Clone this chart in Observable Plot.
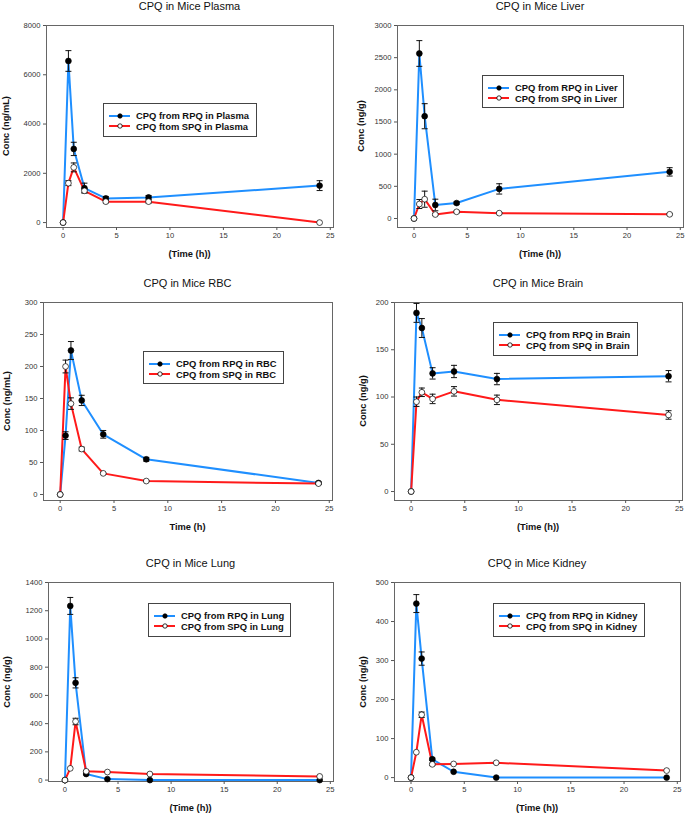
<!DOCTYPE html>
<html><head><meta charset="utf-8">
<script src="https://cdn.jsdelivr.net/npm/d3@7"></script>
<script src="https://cdn.jsdelivr.net/npm/@observablehq/plot@0.6"></script>
<style>
html,body{margin:0;padding:0;background:#fff;}
#page{position:relative;width:685px;height:816px;overflow:hidden;font-family:"Liberation Sans",Arial,sans-serif;color:#111;}
.panel{position:absolute;}
.title{position:absolute;font-size:11px;line-height:11px;white-space:nowrap;transform:translate(-50%,-50%);color:#111;}
.xlab{position:absolute;font-size:9.3px;line-height:10px;font-weight:bold;white-space:nowrap;transform:translate(-50%,-50%);color:#111;}
.ylab{position:absolute;font-size:9.3px;line-height:10px;font-weight:bold;white-space:nowrap;transform:translate(-50%,-50%) rotate(-90deg);color:#111;}
.legend{position:absolute;border:1px solid #444;background:#fff;box-sizing:border-box;}
.legend .row{position:absolute;left:0;height:10px;display:flex;align-items:center;white-space:nowrap;font-size:9.4px;font-weight:bold;color:#111;}
.legend svg{display:block;margin-left:5px;margin-right:6px;}
</style>
</head><body><div id="page"></div>
<script>
// ---------- data ----------
const times = [0, 0.5, 1, 2, 4, 8, 24];
const xTicks = [0, 5, 10, 15, 20, 25];

const plasmaRPQ = [0, 6560, 2990, 1400, 980, 1020, 1500];
const plasmaRPQErr = [0, 420, 270, 200, 80, 80, 200];
const plasmaSPQ = [0, 1600, 2240, 1290, 850, 850, 0];
const plasmaSPQErr = [0, 100, 180, 80, 50, 60, 0];
const plasmaTicks = [0, 2000, 4000, 6000, 8000];

const liverRPQ = [0, 2565, 1590, 210, 240, 460, 725];
const liverRPQErr = [0, 200, 195, 90, 20, 80, 65];
const liverSPQ = [0, 225, 300, 62, 104, 83, 65];
const liverSPQErr = [0, 70, 125, 15, 15, 10, 10];
const liverTicks = [0, 500, 1000, 1500, 2000, 2500, 3000];

const rbcRPQ = [0, 92, 225, 147, 94, 55, 18];
const rbcRPQErr = [0, 6, 14, 8, 6, 3, 2];
const rbcSPQ = [0, 200, 142, 71, 33, 21, 17];
const rbcSPQErr = [0, 10, 9, 3, 1, 1, 1];
const rbcTicks = [0, 50, 100, 150, 200, 250, 300];

const brainRPQ = [0, 189, 173, 125, 127, 119, 122];
const brainRPQErr = [0, 10, 10, 6, 6.5, 6, 6];
const brainSPQ = [0, 95, 105, 98, 106, 97, 81];
const brainSPQErr = [0, 5, 4.5, 5, 5, 5, 4.5];
const brainTicks = [0, 50, 100, 150, 200];

const lungRPQ = [0, 1234, 689, 43, 7, 0, 0];
const lungRPQErr = [0, 60, 36, 6, 0, 0, 0];
const lungSPQ = [0, 83, 415, 62, 57, 43, 26];
const lungSPQErr = [0, 0, 23, 5, 0, 0, 0];
const lungTicks = [0, 200, 400, 600, 800, 1000, 1200, 1400];

const kidneyRPQ = [0, 446, 305, 47, 15, 0, 0];
const kidneyRPQErr = [0, 23, 17, 3, 0, 0, 0];
const kidneySPQ = [0, 65, 161, 34, 35, 38, 18];
const kidneySPQErr = [0, 0, 7, 3, 0, 0, 0];
const kidneyTicks = [0, 100, 200, 300, 400, 500];

const panels = [
  {title: "CPQ in Mice Plasma", ylabel: "Conc (ng/mL)", xlabel: "(Time (h))",
   leg1: "CPQ from RPQ in Plasma", leg2: "CPQ ftom SPQ in Plasma",
   rpq: plasmaRPQ, rpqErr: plasmaRPQErr, spq: plasmaSPQ, spqErr: plasmaSPQErr, ticks: plasmaTicks,
   yDomain: [-200, 8000],
   box: {x: 0, y: 0, w: 340, h: 265}, frame: {L: 46, R: 333, T: 25, B: 227}, ylabX: 6,
   legend: {x: 103, y: 103, w: 154, h: 34}},
  {title: "CPQ in Mice Liver", ylabel: "Conc (ng/g)", xlabel: "(Time (h))",
   leg1: "CPQ from RPQ in Liver", leg2: "CPQ from SPQ in Liver",
   rpq: liverRPQ, rpqErr: liverRPQErr, spq: liverSPQ, spqErr: liverSPQErr, ticks: liverTicks,
   yDomain: [-140, 3000],
   box: {x: 340, y: 0, w: 345, h: 265}, frame: {L: 397, R: 683, T: 25, B: 227}, ylabX: 361,
   legend: {x: 482, y: 75, w: 142, h: 33}},
  {title: "CPQ in Mice RBC", ylabel: "Conc (ng/mL)", xlabel: "Time (h)",
   leg1: "CPQ from RPQ in RBC", leg2: "CPQ from SPQ in RBC",
   rpq: rbcRPQ, rpqErr: rbcRPQErr, spq: rbcSPQ, spqErr: rbcSPQErr, ticks: rbcTicks,
   yDomain: [-9.4, 300],
   box: {x: 0, y: 265, w: 340, h: 275}, frame: {L: 43, R: 332, T: 302, B: 500}, ylabX: 7,
   legend: {x: 143, y: 351, w: 141, h: 33}},
  {title: "CPQ in Mice Brain", ylabel: "Conc (ng/g)", xlabel: "(Time (h))",
   leg1: "CPQ from RPQ in Brain", leg2: "CPQ from SPQ in Brain",
   rpq: brainRPQ, rpqErr: brainRPQErr, spq: brainSPQ, spqErr: brainSPQErr, ticks: brainTicks,
   yDomain: [-9.5, 200],
   box: {x: 340, y: 265, w: 345, h: 275}, frame: {L: 394, R: 682, T: 302, B: 500}, ylabX: 363,
   legend: {x: 493, y: 322, w: 145, h: 34}},
  {title: "CPQ in Mice Lung", ylabel: "Conc (ng/g)", xlabel: "(Time (h))",
   leg1: "CPQ from RPQ in Lung", leg2: "CPQ from SPQ in Lung",
   rpq: lungRPQ, rpqErr: lungRPQErr, spq: lungSPQ, spqErr: lungSPQErr, ticks: lungTicks,
   yDomain: [-10, 1400],
   box: {x: 0, y: 540, w: 340, h: 276}, frame: {L: 48, R: 333, T: 582, B: 781}, ylabX: 7,
   legend: {x: 148, y: 603, w: 143, h: 34}},
  {title: "CPQ in Mice Kidney", ylabel: "Conc (ng/g)", xlabel: "(Time (h))",
   leg1: "CPQ from RPQ in Kidney", leg2: "CPQ from SPQ in Kidney",
   rpq: kidneyRPQ, rpqErr: kidneyRPQErr, spq: kidneySPQ, spqErr: kidneySPQErr, ticks: kidneyTicks,
   yDomain: [-10, 500],
   box: {x: 340, y: 540, w: 345, h: 276}, frame: {L: 394, R: 680, T: 582, B: 781}, ylabX: 363,
   legend: {x: 493, y: 603, w: 152, h: 34}}
];

const BLUE = "#1f8fff";
const RED = "#ff1a1a";
const capSymbol = {draw(ctx) { ctx.moveTo(-3, 0); ctx.lineTo(3, 0); }};

const page = document.getElementById("page");

function errMarks(rows, key, errKey) {
  const data = rows.filter(d => d[errKey] > 0);
  return [
    Plot.ruleX(data, {x: "t", y1: d => d[key] - d[errKey], y2: d => d[key] + d[errKey], stroke: "#111", strokeWidth: 1}),
    Plot.dot(data, {x: "t", y: d => d[key] + d[errKey], symbol: capSymbol, fill: "none", stroke: "#111", strokeWidth: 1}),
    Plot.dot(data, {x: "t", y: d => d[key] - d[errKey], symbol: capSymbol, fill: "none", stroke: "#111", strokeWidth: 1})
  ];
}

for (const p of panels) {
  const rows = times.map((t, i) => ({t, rpq: p.rpq[i], rpqErr: p.rpqErr[i], spq: p.spq[i], spqErr: p.spqErr[i]}));
  const {box, frame} = p;
  const chart = Plot.plot({
    width: box.w, height: box.h,
    marginLeft: frame.L - box.x, marginRight: box.x + box.w - frame.R,
    marginTop: frame.T - box.y, marginBottom: box.y + box.h - frame.B,
    style: {background: "transparent", overflow: "visible", fontFamily: "'Liberation Sans', Arial, sans-serif", fontSize: "7.6px", color: "#333"},
    x: {domain: [-1.55, 25.3]},
    y: {domain: p.yDomain},
    marks: [
      Plot.frame({stroke: "#666", strokeWidth: 1}),
      Plot.axisX({ticks: xTicks, tickSize: 3, tickPadding: 2, tickFormat: d => String(d), label: null, stroke: "#555"}),
      Plot.axisY({ticks: p.ticks, tickSize: 3, tickPadding: 3, tickFormat: d => String(d), label: null, stroke: "#555"}),
      Plot.line(rows, {x: "t", y: "rpq", stroke: BLUE, strokeWidth: 2}),
      Plot.line(rows, {x: "t", y: "spq", stroke: RED, strokeWidth: 2}),
      ...errMarks(rows, "rpq", "rpqErr"),
      ...errMarks(rows, "spq", "spqErr"),
      Plot.dot(rows, {x: "t", y: "rpq", r: 2.9, fill: "#000", stroke: "#000", strokeWidth: 0.7}),
      Plot.dot(rows, {x: "t", y: "spq", r: 2.9, fill: "#fff", stroke: "#000", strokeWidth: 0.7})
    ]
  });
  const holder = document.createElement("div");
  holder.className = "panel";
  holder.style.left = box.x + "px";
  holder.style.top = box.y + "px";
  holder.appendChild(chart);
  page.appendChild(holder);

  const cx = (frame.L + frame.R) / 2;
  const t = document.createElement("div");
  t.className = "title"; t.textContent = p.title;
  t.style.left = cx + "px"; t.style.top = (frame.T - 19) + "px";
  page.appendChild(t);

  const xl = document.createElement("div");
  xl.className = "xlab"; xl.textContent = p.xlabel;
  xl.style.left = cx + "px"; xl.style.top = (frame.B + 27) + "px";
  page.appendChild(xl);

  const yl = document.createElement("div");
  yl.className = "ylab"; yl.textContent = p.ylabel;
  yl.style.left = p.ylabX + "px"; yl.style.top = ((frame.T + frame.B) / 2) + "px";
  page.appendChild(yl);

  const lg = document.createElement("div");
  lg.className = "legend";
  Object.assign(lg.style, {left: p.legend.x + "px", top: p.legend.y + "px", width: p.legend.w + "px", height: p.legend.h + "px"});
  const entries = [[p.leg1, BLUE, "#000"], [p.leg2, RED, "#fff"]];
  entries.forEach(([label, color, fill], i) => {
    const row = document.createElement("div");
    row.className = "row";
    row.style.top = (6.5 + i * 10.5) + "px";
    row.innerHTML = `<svg width="21" height="10"><line x1="0" x2="21" y1="5" y2="5" stroke="${color}" stroke-width="2"/><circle cx="11" cy="5" r="2.2" fill="${fill}" stroke="#000" stroke-width="0.8"/></svg><span>${label}</span>`;
    lg.appendChild(row);
  });
  page.appendChild(lg);
}
</script>
</body></html>
